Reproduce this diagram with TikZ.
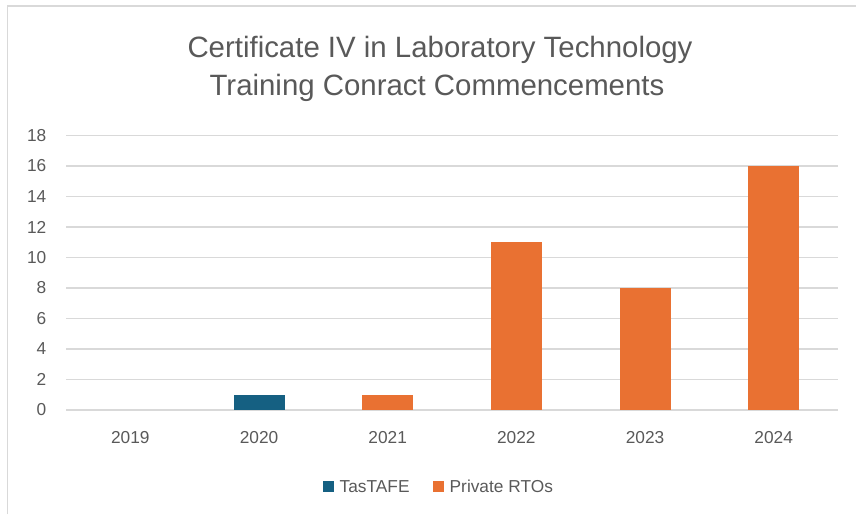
\documentclass[tikz,border=0pt]{standalone}
\usepackage{fontspec}
\setmainfont{Liberation Sans}
\definecolor{tastafe}{HTML}{156082}
\definecolor{privrto}{HTML}{E97132}
\definecolor{textgray}{HTML}{595959}
\definecolor{gridgray}{HTML}{D9D9D9}
\tikzset{
	gridline/.style={gridgray, line width=1.2pt},
	axislabel/.style={textgray, inner sep=0pt, font=\fontsize{17.3}{19}\selectfont},
	titleline/.style={textgray, inner sep=0pt, anchor=base, font=\fontsize{29.4}{35}\selectfont},
}
\begin{document}
\begin{tikzpicture}[x=1pt, y=-1pt]
	\useasboundingbox (0,0) rectangle (856,514);
	%% Rahmen
	\draw[gridgray, line width=1.5pt] (7.5,514) -- (7.5,6) -- (856,6);

	%% Titel
	\node[titleline] (title1) at (440,57) {Certificate IV in Laboratory Technology};
	\node[titleline] (title2) at (437,95) {Training Conract Commencements};
	%%%%%%%%%%%%%%%%

	%% Achsen und Gitter
\begin{scope}
	\foreach \v in {0,2,...,18} {
		\draw[gridline] (66,{410-15.25*\v}) -- (838,{410-15.25*\v});
		\node[axislabel, anchor=east] (tick\v) at (46.5,{410-15.25*\v}) {\v};
	}
	\foreach \yr [count=\i] in {2019,2020,2021,2022,2023,2024} {
		\node[axislabel] (year\yr) at ({66+128.67*(\i-0.5)},437.5) {\yr};
	}
\end{scope}

	%% Balken
\begin{scope}
	\foreach \i/\val/\col in {2/1/tastafe, 3/1/privrto, 4/11/privrto, 5/8/privrto, 6/16/privrto} {
		\fill[\col] ({66+128.67*(\i-0.5)-25.5},409.5) rectangle ({66+128.67*(\i-0.5)+25.5},{410-15.25*\val});
	}
\end{scope}

	%% Legende
	\fill[tastafe] (323,481) rectangle (334,492);
	\node[axislabel, anchor=base west] (legtas) at (339.5,492) {TasTAFE};
	\fill[privrto] (433,481) rectangle (444,492);
	\node[axislabel, anchor=base west] (legrto) at (449.5,492) {Private RTOs};
\end{tikzpicture}
\end{document}
